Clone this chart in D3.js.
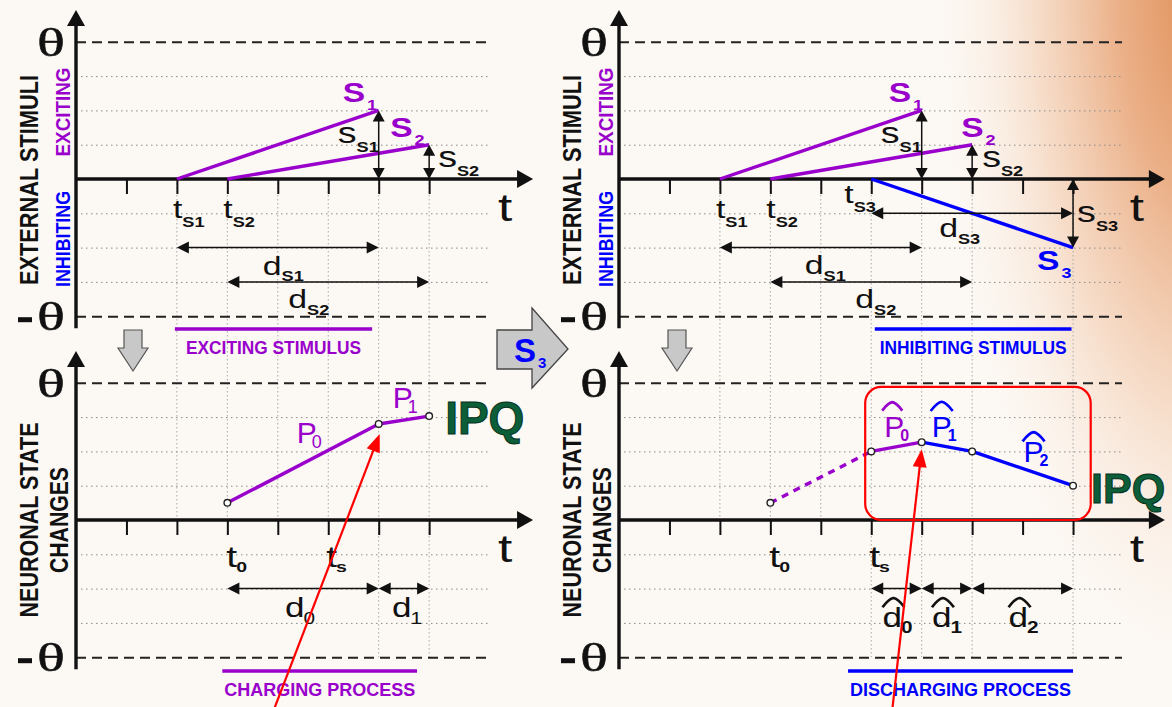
<!DOCTYPE html>
<html>
<head>
<meta charset="utf-8">
<script src="https://cdn.jsdelivr.net/npm/d3@7"></script>
<style>
  html, body { margin: 0; padding: 0; background: #fcf8f3; }
  svg { display: block; }
</style>
</head>
<body>
<svg id="chart" width="1172" height="707"></svg>
<script>
/* ── data (t in tick units, value in grid units, theta = 4) ───────── */
const leftTicks  = [1, 2, 3, 4, 5, 6, 7];
const rightTicks = [1, 2, 3, 4, 5, 6, 7, 8, 9];
const gridLevels = [-3, -2, -1, 1, 2, 3];
const THETA = 4;

const stimS1 = [[2, 0], [6, 2]];
const stimS2 = [[3, 0], [7, 1]];
const stimS3 = [[5, 0], [9, -2]];

const procP0 = [[3, 0.5], [6, 2.8]];
const procP1 = [[6, 2.8], [7, 3.03]];

const procP0dash = [[3, 0.5], [5, 2.0]];
const procP0hat  = [[5, 2.0], [6, 2.27]];
const procP1hat  = [[6, 2.27], [7, 2.0]];
const procP2hat  = [[7, 2.0], [9, 1.0]];

/* magnitude arrows: [t, from, to] */
const magLeft  = [[6, 0, 2], [7, 0, 1]];
const magRight = [[6, 0, 2], [7, 0, 1], [9, 0, -2]];
/* duration arrows: [level, from t, to t] */
const durTopLeft  = [[-2, 2, 6], [-3, 3, 7]];
const durTopRight = [[-1, 5, 9], [-2, 2, 6], [-3, 3, 7]];
const durBotLeft  = [[-2, 3, 6], [-2, 6, 7]];
const durBotRight = [[-2, 5, 6], [-2, 6, 7], [-2, 7, 9]];

/* faint vertical guides */
const colsLeft = [2, 3, 4, 5, 6, 7], colsLeftLow = [6, 7];
const colsRight = [2, 3, 4, 5, 6, 7, 9], colsRightLow = [5, 6, 7, 9];

/* ── style ───────────────────────────────────────────────────────── */
const PURPLE = '#9900cc', BLUE = '#0000ff', GREEN = '#0b5e38', RED = '#ff0000', INK = '#111';
const SANS = 'Liberation Sans, Arial, sans-serif';
const SERIF = 'Liberation Serif, Times New Roman, serif';
const U = 50.45, V = 34.3;

const svg = d3.select('#chart');

/* background with warm glow in the top-right corner */
const defs = svg.append('defs');
const rg = defs.append('radialGradient').attr('id', 'glow')
  .attr('gradientUnits', 'userSpaceOnUse').attr('cx', 0).attr('cy', 0).attr('r', 1)
  .attr('gradientTransform', 'translate(1200,-10) scale(270,700)');
[[0, '#e08f58', 1], [0.3, '#ebb088', 1], [0.62, '#f6dac5', 0.85], [1, '#fcf8f3', 0]]
  .forEach(([o, c, a]) => rg.append('stop').attr('offset', o).attr('stop-color', c).attr('stop-opacity', a));
svg.append('rect').attr('width', 1172).attr('height', 707).attr('fill', '#fcf8f3');
svg.append('rect').attr('width', 1172).attr('height', 707).attr('fill', 'url(#glow)');

function panel(x0, y0) {
  return {
    x: d3.scaleLinear().domain([0, 1]).range([x0, x0 + U]),
    y: d3.scaleLinear().domain([0, 1]).range([y0, y0 - V])
  };
}
const TL = panel(76, 179), BL = panel(76, 520), TR = panel(619, 179), BR = panel(619, 520);

/* ── helpers ─────────────────────────────────────────────────────── */
function head(g, x, y, deg, len, hw, fill) {
  g.append('path').attr('d', `M0,0L${-len},${-hw}L${-len},${hw}Z`)
    .attr('transform', `translate(${x},${y}) rotate(${deg})`).attr('fill', fill);
}
function arrow(g, x1, y1, x2, y2, o = {}) {
  const w = o.w || 1.5, color = o.color || INK, len = o.len || 10, hw = o.hw || 5;
  const ang = Math.atan2(y2 - y1, x2 - x1), deg = ang * 180 / Math.PI;
  const c = Math.cos(ang), s = Math.sin(ang), cut = len * 0.7;
  const ax = o.start ? x1 + c * cut : x1, ay = o.start ? y1 + s * cut : y1;
  g.append('line').attr('x1', ax).attr('y1', ay)
    .attr('x2', x2 - c * cut).attr('y2', y2 - s * cut)
    .attr('stroke', color).attr('stroke-width', w);
  head(g, x2, y2, deg, len, hw, color);
  if (o.start) head(g, x1, y1, deg + 180, len, hw, color);
}
function lab(x, y, main, sub, o = {}) {
  const f = o.f || 26, sx = o.sx || 1.3, color = o.color || INK;
  const t = svg.append('text').attr('transform', `translate(${x},${y}) scale(${sx},1)`)
    .attr('font-family', SANS).attr('font-size', f).attr('font-weight', o.bold ? 700 : 400)
    .attr('fill', color).text(main);
  if (sub) {
    const w = t.node().getComputedTextLength() * sx;
    svg.append('text')
      .attr('transform', `translate(${x + w + (o.sdx || 0)},${y + (o.sdy == null ? 9 : o.sdy)}) scale(${o.ssx || sx},1)`)
      .attr('font-family', SANS).attr('font-size', o.sf || 14)
      .attr('font-weight', o.sbold === false ? 400 : 700)
      .attr('fill', color).text(sub);
  }
  return t;
}
function vlab(x, y, text, f, len, color) {
  svg.append('text').attr('transform', `translate(${x},${y}) rotate(-90)`)
    .attr('text-anchor', 'middle').attr('font-family', SANS).attr('font-size', f)
    .attr('font-weight', 700).attr('fill', color || INK)
    .attr('textLength', len).attr('lengthAdjust', 'spacingAndGlyphs').text(text);
}
function caption(P, t1, t2, level, text, len, color) {
  const x1 = P.x(t1), x2 = P.x(t2), y = P.y(level);
  svg.append('line').attr('x1', x1).attr('x2', x2).attr('y1', y).attr('y2', y)
    .attr('stroke', color).attr('stroke-width', 3.5);
  svg.append('text').attr('x', (x1 + x2) / 2).attr('y', y + 25).attr('text-anchor', 'middle')
    .attr('font-family', SANS).attr('font-size', 19).attr('font-weight', 700).attr('fill', color)
    .attr('textLength', len).attr('lengthAdjust', 'spacingAndGlyphs').text(text);
}
function hat(cx, cy, w, color) {
  const h = w * 0.42;
  svg.append('path')
    .attr('d', `M${cx - w / 2},${cy + h / 2}Q${cx - w / 5},${cy - h * 0.45} ${cx},${cy - h / 2}Q${cx + w / 5},${cy - h * 0.45} ${cx + w / 2},${cy + h / 2}`)
    .attr('fill', 'none').attr('stroke', color).attr('stroke-width', 2.7);
}
function theta(P, level) {
  const x = P.x(0) - 11, yc = P.y(level);
  svg.append('text').attr('transform', `translate(${x},${yc + 14}) scale(1.42,1)`)
    .attr('text-anchor', 'end').attr('font-family', SERIF).attr('font-size', 41)
    .attr('fill', INK).attr('stroke', INK).attr('stroke-width', 0.5).text('θ');
  if (level < 0) {
    svg.append('rect').attr('x', x - 47).attr('y', yc + 1).attr('width', 14).attr('height', 5).attr('fill', INK);
  }
}

/* ── vertical guides ─────────────────────────────────────────────── */
function guides(Ptop, Pbot, cols, colsLow) {
  const g = svg.append('g').attr('stroke', '#a9a9a9').attr('stroke-width', 1).attr('stroke-dasharray', '1.5,2.5');
  g.selectAll('.vg').data(cols).join('line')
    .attr('x1', d => Ptop.x(d)).attr('x2', d => Ptop.x(d))
    .attr('y1', Ptop.y(0)).attr('y2', Pbot.y(0));
  g.selectAll('.vl').data(colsLow).join('line')
    .attr('x1', d => Pbot.x(d)).attr('x2', d => Pbot.x(d))
    .attr('y1', Pbot.y(0)).attr('y2', Pbot.y(-THETA));
}
guides(TL, BL, colsLeft, colsLeftLow);
guides(TR, BR, colsRight, colsRightLow);

/* ── panel frames ────────────────────────────────────────────────── */
function frame(P, ticks, axisEnd, dashEnd) {
  const g = svg.append('g');
  const x0 = P.x(0), w = P.x(dashEnd) - x0;
  g.append('g').attr('transform', `translate(${x0},0)`)
    .call(d3.axisLeft(P.y).tickValues(gridLevels).tickSize(-w).tickFormat(''))
    .call(a => a.select('.domain').remove())
    .selectAll('line').attr('stroke', '#8a8a8a').attr('stroke-width', 1).attr('stroke-dasharray', '1.5,3.5');
  g.append('g').attr('transform', `translate(${x0},0)`)
    .call(d3.axisLeft(P.y).tickValues([THETA, -THETA]).tickSize(-w).tickFormat(''))
    .call(a => a.select('.domain').remove())
    .selectAll('line').attr('stroke', '#222').attr('stroke-width', 2).attr('stroke-dasharray', '10,6');
  g.append('g').attr('transform', `translate(0,${P.y(0)})`)
    .call(d3.axisBottom(P.x).tickValues(ticks).tickSize(15).tickFormat(''))
    .call(a => a.select('.domain').remove())
    .selectAll('line').attr('stroke', INK).attr('stroke-width', 2);
  arrow(g, x0, P.y(0), P.x(axisEnd), P.y(0), { w: 3.4, len: 16, hw: 9 });
  arrow(g, x0, P.y(-4.35), x0, P.y(4.93), { w: 3.4, len: 16, hw: 9 });
  theta(P, THETA);
  theta(P, -THETA);
  lab(P.x(axisEnd) - 35, P.y(0) + 42, 't', null, { f: 38, sx: 1.35 });
}
frame(TL, leftTicks, 9.06, 8.2);
frame(BL, leftTicks, 9.06, 8.2);
frame(TR, rightTicks, 10.82, 9.97);
frame(BR, rightTicks, 10.82, 9.97);

/* ── series ──────────────────────────────────────────────────────── */
function series(P, pts, color, dash) {
  const line = d3.line().x(d => P.x(d[0])).y(d => P.y(d[1]));
  svg.append('path').attr('d', line(pts)).attr('fill', 'none')
    .attr('stroke', color).attr('stroke-width', 3.4)
    .attr('stroke-dasharray', dash || null);
}
series(TL, stimS1, PURPLE); series(TL, stimS2, PURPLE);
series(TR, stimS1, PURPLE); series(TR, stimS2, PURPLE); series(TR, stimS3, BLUE);
series(BL, procP0, PURPLE); series(BL, procP1, PURPLE);
series(BR, procP0dash, PURPLE, '7,6'); series(BR, procP0hat, PURPLE);
series(BR, procP1hat, BLUE); series(BR, procP2hat, BLUE);

/* magnitude and duration arrows */
function mags(P, list) {
  const g = svg.append('g');
  list.forEach(([t, a, b]) => arrow(g, P.x(t), P.y(a), P.x(t), P.y(b), { start: true, len: 11, hw: 6 }));
}
function durs(P, list) {
  const g = svg.append('g');
  list.forEach(([lv, a, b]) => arrow(g, P.x(a), P.y(lv), P.x(b), P.y(lv), { start: true, len: 12, hw: 6 }));
}
mags(TL, magLeft); mags(TR, magRight);
durs(TL, durTopLeft); durs(TR, durTopRight); durs(BL, durBotLeft); durs(BR, durBotRight);

/* open state points */
function dots(P, segs) {
  const pts = [];
  segs.forEach(s => s.forEach(p => { if (!pts.some(q => q[0] === p[0] && q[1] === p[1])) pts.push(p); }));
  svg.append('g').selectAll('circle').data(pts).join('circle')
    .attr('cx', d => P.x(d[0])).attr('cy', d => P.y(d[1])).attr('r', 3.3)
    .attr('fill', '#fff').attr('stroke', '#222').attr('stroke-width', 1.4);
}
dots(BL, [procP0, procP1]);
dots(BR, [procP0dash, procP0hat, procP1hat, procP2hat]);

/* ── labels: top-left ────────────────────────────────────────────── */
{
  const X = TL.x, Y = TL.y;
  const pb = { f: 28, sx: 1.2, bold: true, color: PURPLE, sdy: 8, sdx: 2, sf: 15 };
  lab(X(6) - 36, Y(2) - 8, 'S', '1', pb);
  lab(X(7) - 39, Y(1) - 8, 'S', '2', pb);
  lab(X(6) - 41, Y(1) - 2, 's', 'S1', { f: 29 });
  lab(X(7) + 9, Y(0) - 12, 's', 'S2', { f: 29 });
  lab(X(2) - 4, Y(0) + 39, 't', 'S1', { f: 26 });
  lab(X(3) - 4, Y(0) + 39, 't', 'S2', { f: 26 });
  lab(X(4) - 15, Y(-2) + 27, 'd', 'S1', { f: 26, sdy: 6 });
  lab(X(5) - 40, Y(-3) + 26, 'd', 'S2', { f: 26, sdy: 7 });
}
/* top-right */
{
  const X = TR.x, Y = TR.y;
  const pb = { f: 28, sx: 1.2, bold: true, color: PURPLE, sdy: 8, sdx: 2, sf: 15 };
  lab(X(6) - 33, Y(2) - 8, 'S', '1', pb);
  lab(X(7) - 11, Y(1) - 8, 'S', '2', pb);
  lab(X(9) - 36, Y(-2) + 22, 'S', '3', Object.assign({}, pb, { color: BLUE }));
  lab(X(6) - 41, Y(1) - 2, 's', 'S1', { f: 29 });
  lab(X(7) + 10, Y(0) - 12, 's', 'S2', { f: 29 });
  lab(X(9) + 4, Y(-1) + 9, 's', 'S3', { f: 29 });
  lab(X(2) - 4, Y(0) + 39, 't', 'S1', { f: 26 });
  lab(X(3) - 4, Y(0) + 39, 't', 'S2', { f: 26 });
  lab(X(5) - 27, Y(0) + 24, 't', 'S3', { f: 26 });
  lab(X(7) - 33, Y(-1) + 24, 'd', 'S3', { f: 26, sdy: 7 });
  lab(X(4) - 16, Y(-2) + 26, 'd', 'S1', { f: 26, sdy: 7 });
  lab(X(5) - 16, Y(-3) + 26, 'd', 'S2', { f: 26, sdy: 7 });
}
/* bottom-left */
{
  const X = BL.x, Y = BL.y;
  lab(X(3) - 1, Y(0) + 47, 't', '0', { f: 30, sf: 15, sdy: 5, sdx: -1 });
  lab(X(5) - 2, Y(0) + 47, 't', 's', { f: 30, sf: 15, sdy: 5, sdx: -1 });
  lab(X(4) + 19, Y(2) - 8, 'P', '0', { f: 30, sx: 1, color: PURPLE, sf: 18, sdx: -5, sdy: 5, sbold: false });
  lab(X(6) + 14, Y(3) - 9, 'P', '1', { f: 30, sx: 1, color: PURPLE, sf: 18, sdx: -5, sdy: 5, sbold: false });
  lab(X(4.5) - 18, Y(-2) + 28, 'd', '0', { f: 27, sf: 16, sdy: 7, sdx: -1, sbold: false });
  lab(X(6.5) - 12, Y(-2) + 28, 'd', '1', { f: 27, sf: 16, sdy: 7, sdx: -1, sbold: false });
  svg.append('text').attr('x', X(7) + 16).attr('y', Y(3) + 17)
    .attr('font-family', SANS).attr('font-size', 46).attr('font-weight', 700)
    .attr('fill', GREEN).attr('stroke', '#05301c').attr('stroke-width', 1).text('IPQ');
}
/* bottom-right */
{
  const X = BR.x, Y = BR.y;
  lab(X(3) - 1, Y(0) + 47, 't', '0', { f: 30, sf: 15, sdy: 5, sdx: -1 });
  lab(X(5) - 2, Y(0) + 47, 't', 's', { f: 30, sf: 15, sdy: 5, sdx: -1 });
  const ph = { f: 30, sx: 1, sf: 16, sdx: -4, sdy: 4 };
  lab(X(5) + 13, Y(2) - 14, 'P', '0', Object.assign({ color: PURPLE }, ph));
  hat(X(5) + 21, Y(2) - 45, 20, PURPLE);
  lab(X(6) + 10, Y(2) - 14, 'P', '1', Object.assign({ color: BLUE }, ph));
  hat(X(6) + 20, Y(2) - 45, 22, BLUE);
  lab(X(8) + 1, Y(1) - 24, 'P', '2', Object.assign({ color: BLUE }, ph));
  hat(X(8) + 11, Y(1) - 49, 22, BLUE);
  const dh = { f: 27, sf: 16, sdy: 6, sdx: -1 };
  [[5.5, -14], [6.5, -15], [8, -14]].forEach(([t, dx], i) => {
    lab(X(t) + dx, Y(-2) + 38, 'd', String(i), dh);
    hat(X(t) + dx + 11, Y(-2) + 14, 22, INK);
  });
  svg.append('text').attr('x', X(9) + 18).attr('y', Y(1) + 17)
    .attr('font-family', SANS).attr('font-size', 43).attr('font-weight', 700)
    .attr('fill', GREEN).attr('stroke', '#05301c').attr('stroke-width', 1).text('IPQ');
  svg.append('rect').attr('x', X(4.88)).attr('y', Y(3.88))
    .attr('width', X(9.35) - X(4.88)).attr('height', Y(0) - Y(3.88))
    .attr('rx', 16).attr('fill', 'none').attr('stroke', RED).attr('stroke-width', 2.2);
}

/* ── axis titles ─────────────────────────────────────────────────── */
[0, 543].forEach(dx => {
  vlab(38 + dx, 180, 'EXTERNAL STIMULI', 26, 210);
  vlab(70 + dx, 112, 'EXCITING', 21, 89, PURPLE);
  vlab(70 + dx, 239, 'INHIBITING', 21, 96, BLUE);
  vlab(38 + dx, 520, 'NEURONAL STATE', 26, 195);
  vlab(68 + dx, 520, 'CHANGES', 26, 106);
});

/* ── captions ────────────────────────────────────────────────────── */
caption(TL, 1.96, 5.87, -4.37, 'EXCITING STIMULUS', 175, PURPLE);
caption(TR, 5.07, 8.97, -4.37, 'INHIBITING STIMULUS', 187, BLUE);
caption(BL, 2.9, 6.76, -4.4, 'CHARGING PROCESS', 191, PURPLE);
caption(BR, 4.54, 9.0, -4.4, 'DISCHARGING PROCESS', 221, BLUE);

/* ── block arrows ────────────────────────────────────────────────── */
function downArrow(cx) {
  svg.append('path')
    .attr('d', `M${cx - 9},330H${cx + 9}V348H${cx + 15}L${cx},371L${cx - 15},348H${cx - 9}Z`)
    .attr('fill', '#c8c8c8').attr('stroke', '#555').attr('stroke-width', 1.2);
}
downArrow(133);
downArrow(677);
svg.append('path')
  .attr('d', 'M497,330H532V308L568,349L532,388V369H497Z')
  .attr('fill', '#c8c8c8').attr('stroke', '#444').attr('stroke-width', 1.3);
lab(514, 362, 'S', '3', { f: 33, sx: 1, bold: true, color: BLUE, sf: 15, sdy: 6, sdx: 2 });

/* ── red call-out arrows ─────────────────────────────────────────── */
{
  const g = svg.append('g');
  arrow(g, 273, 712, BL.x(6) + 1, BL.y(2.8) + 10, { w: 2.2, color: RED, len: 18, hw: 7 });
  arrow(g, 892, 712, BR.x(6), BR.y(2.27) + 7, { w: 2.2, color: RED, len: 18, hw: 7 });
}
</script>
</body>
</html>
